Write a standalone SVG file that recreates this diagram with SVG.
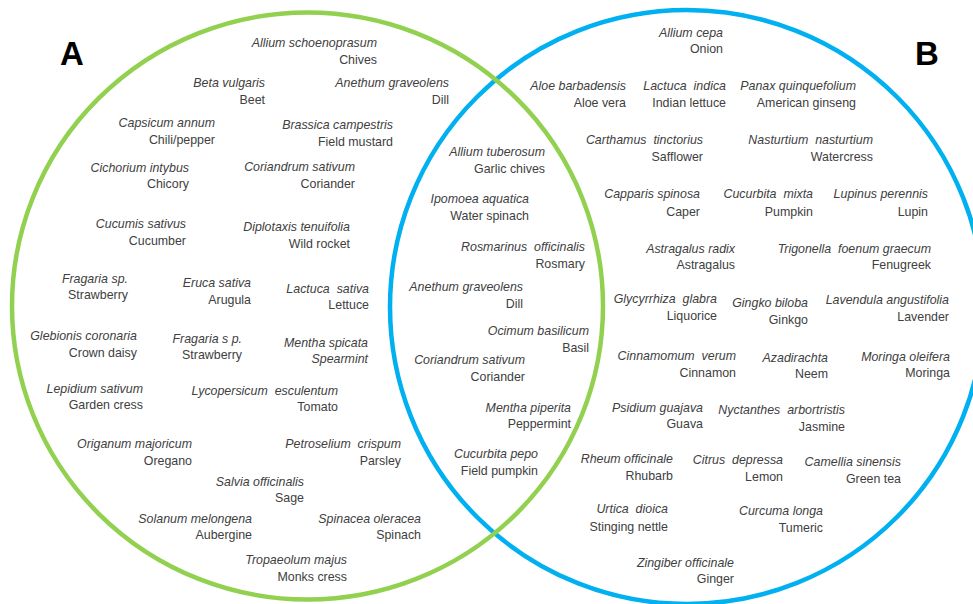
<svg xmlns="http://www.w3.org/2000/svg" width="973" height="604" viewBox="0 0 973 604">
<style>
text{font-family:"Liberation Sans",Arial,sans-serif;font-size:12.4px;fill:#404040;text-anchor:end}
.s{font-style:italic}
.big{font-size:33px;font-weight:bold;fill:#000;text-anchor:middle}
.ring{fill:none;stroke-width:4.5}
</style>
<rect width="973" height="604" fill="#fff"/>
<g id="setB"><circle class="ring" cx="687" cy="307" r="297" stroke="#00B0F0"/></g>
<g id="setA"><ellipse class="ring" cx="307.5" cy="306" rx="295.5" ry="293.5" stroke="#92D050"/></g>
<g id="labelA"><text class="big" x="72" y="65">A</text></g>
<g id="labelB"><text class="big" x="927" y="65">B</text></g>

<g id="a1"><text class="s" x="377" y="47">Allium schoenoprasum</text><text x="377" y="64">Chives</text></g>
<g id="a2"><text class="s" x="265" y="87">Beta vulgaris</text><text x="265" y="104">Beet</text></g>
<g id="a3"><text class="s" x="449" y="87">Anethum graveolens</text><text x="449" y="104">Dill</text></g>
<g id="a4"><text class="s" x="215" y="127">Capsicum annum</text><text x="215" y="144">Chili/pepper</text></g>
<g id="a5"><text class="s" x="393" y="129">Brassica campestris</text><text x="393" y="146">Field mustard</text></g>
<g id="a6"><text class="s" x="189" y="172">Cichorium intybus</text><text x="189" y="188">Chicory</text></g>
<g id="a7"><text class="s" x="355" y="171">Coriandrum sativum</text><text x="355" y="188">Coriander</text></g>
<g id="a8"><text class="s" x="186" y="228">Cucumis sativus</text><text x="186" y="245">Cucumber</text></g>
<g id="a9"><text class="s" x="350" y="231">Diplotaxis tenuifolia</text><text x="350" y="248">Wild rocket</text></g>
<g id="a10"><text class="s" x="128" y="283">Fragaria sp.</text><text x="128" y="299">Strawberry</text></g>
<g id="a11"><text class="s" x="251" y="287">Eruca sativa</text><text x="251" y="304">Arugula</text></g>
<g id="a12"><text class="s" x="369" y="293">Lactuca&#160; sativa</text><text x="369" y="309">Lettuce</text></g>
<g id="a13"><text class="s" x="137" y="340">Glebionis coronaria</text><text x="137" y="357">Crown daisy</text></g>
<g id="a14"><text class="s" x="242" y="343">Fragaria s p.</text><text x="242" y="359">Strawberry</text></g>
<g id="a15"><text class="s" x="368" y="347">Mentha spicata</text><text class="s" x="368" y="363">Spearmint</text></g>
<g id="a16"><text class="s" x="143" y="393">Lepidium sativum</text><text x="143" y="409">Garden cress</text></g>
<g id="a17"><text class="s" x="338" y="395">Lycopersicum&#160; esculentum</text><text x="338" y="411">Tomato</text></g>
<g id="a18"><text class="s" x="192" y="448">Origanum majoricum</text><text x="192" y="465">Oregano</text></g>
<g id="a19"><text class="s" x="401" y="448">Petroselium&#160; crispum</text><text x="401" y="465">Parsley</text></g>
<g id="a20"><text class="s" x="304" y="486">Salvia officinalis</text><text x="304" y="502">Sage</text></g>
<g id="a21"><text class="s" x="252" y="523">Solanum melongena</text><text x="252" y="539">Aubergine</text></g>
<g id="a22"><text class="s" x="421" y="523">Spinacea oleracea</text><text x="421" y="539">Spinach</text></g>
<g id="a23"><text class="s" x="347" y="564">Tropaeolum majus</text><text x="347" y="581">Monks cress</text></g>

<g id="c1"><text class="s" x="545" y="156">Allium tuberosum</text><text x="545" y="173">Garlic chives</text></g>
<g id="c2"><text class="s" x="529" y="203">Ipomoea aquatica</text><text x="529" y="220">Water spinach</text></g>
<g id="c3"><text class="s" x="585" y="251">Rosmarinus&#160; officinalis</text><text x="585" y="268">Rosmary</text></g>
<g id="c4"><text class="s" x="523" y="291">Anethum graveolens</text><text x="523" y="308">Dill</text></g>
<g id="c5"><text class="s" x="589" y="335">Ocimum basilicum</text><text x="589" y="352">Basil</text></g>
<g id="c6"><text class="s" x="525" y="364">Coriandrum sativum</text><text x="525" y="381">Coriander</text></g>
<g id="c7"><text class="s" x="571" y="412">Mentha piperita</text><text x="571" y="428">Peppermint</text></g>
<g id="c8"><text class="s" x="538" y="458">Cucurbita pepo</text><text x="538" y="475">Field pumpkin</text></g>

<g id="b1"><text class="s" x="723" y="37">Allium cepa</text><text x="723" y="53">Onion</text></g>
<g id="b2"><text class="s" x="626" y="90">Aloe barbadensis</text><text x="626" y="107">Aloe vera</text></g>
<g id="b3"><text class="s" x="726" y="90">Lactuca&#160; indica</text><text x="726" y="107">Indian lettuce</text></g>
<g id="b4"><text class="s" x="856" y="90">Panax quinquefolium</text><text x="856" y="107">American ginseng</text></g>
<g id="b5"><text class="s" x="703" y="144">Carthamus&#160; tinctorius</text><text x="703" y="161">Safflower</text></g>
<g id="b6"><text class="s" x="873" y="144">Nasturtium&#160; nasturtium</text><text x="873" y="161">Watercress</text></g>
<g id="b7"><text class="s" x="700" y="198">Capparis spinosa</text><text x="700" y="216">Caper</text></g>
<g id="b8"><text class="s" x="813" y="198">Cucurbita&#160; mixta</text><text x="813" y="216">Pumpkin</text></g>
<g id="b9"><text class="s" x="928" y="198">Lupinus perennis</text><text x="928" y="216">Lupin</text></g>
<g id="b10"><text class="s" x="735" y="253">Astragalus radix</text><text x="735" y="269">Astragalus</text></g>
<g id="b11"><text class="s" x="931" y="253">Trigonella&#160; foenum graecum</text><text x="931" y="269">Fenugreek</text></g>
<g id="b12"><text class="s" x="717" y="303">Glycyrrhiza&#160; glabra</text><text x="717" y="320">Liquorice</text></g>
<g id="b13"><text class="s" x="808" y="307">Gingko biloba</text><text x="808" y="324">Ginkgo</text></g>
<g id="b14"><text class="s" x="949" y="304">Lavendula angustifolia</text><text x="949" y="321">Lavender</text></g>
<g id="b15"><text class="s" x="736" y="360">Cinnamomum&#160; verum</text><text x="736" y="377">Cinnamon</text></g>
<g id="b16"><text class="s" x="828" y="362">Azadirachta</text><text x="828" y="378">Neem</text></g>
<g id="b17"><text class="s" x="950" y="361">Moringa oleifera</text><text x="950" y="377">Moringa</text></g>
<g id="b18"><text class="s" x="703" y="412">Psidium guajava</text><text x="703" y="428">Guava</text></g>
<g id="b19"><text class="s" x="845" y="414">Nyctanthes&#160; arbortristis</text><text x="845" y="431">Jasmine</text></g>
<g id="b20"><text class="s" x="673" y="463">Rheum officinale</text><text x="673" y="480">Rhubarb</text></g>
<g id="b21"><text class="s" x="783" y="464">Citrus&#160; depressa</text><text x="783" y="481">Lemon</text></g>
<g id="b22"><text class="s" x="901" y="466">Camellia sinensis</text><text x="901" y="483">Green tea</text></g>
<g id="b23"><text class="s" x="668" y="513">Urtica&#160; dioica</text><text x="668" y="531">Stinging nettle</text></g>
<g id="b24"><text class="s" x="823" y="515">Curcuma longa</text><text x="823" y="532">Tumeric</text></g>
<g id="b25"><text class="s" x="734" y="567">Zingiber officinale</text><text x="734" y="583">Ginger</text></g>
<g id="connectors"/>
</svg>
